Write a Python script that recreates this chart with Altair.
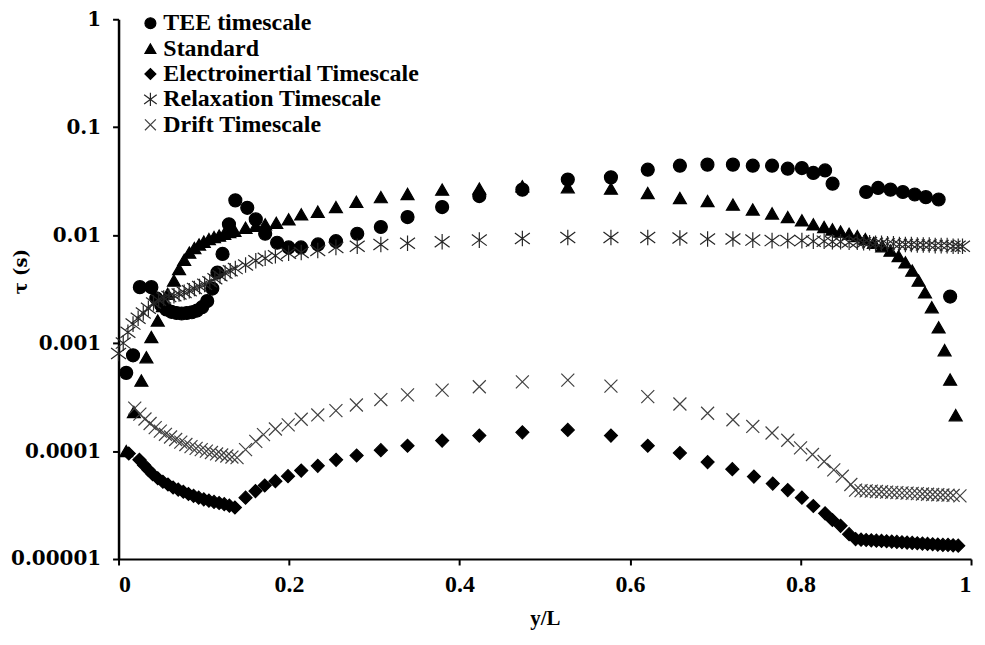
import altair as alt
import pandas as pd

series_names = ["TEE timescale", "Standard", "Electroinertial Timescale",
                "Relaxation Timescale", "Drift Timescale"]

tee_x = [0.009, 0.017, 0.025, 0.0385, 0.0443, 0.050, 0.056, 0.062, 0.068, 0.074, 0.080, 0.086, 0.092, 0.098,
         0.104, 0.110, 0.116, 0.122, 0.1295, 0.137, 0.151, 0.161, 0.172, 0.186, 0.1995, 0.214, 0.234, 0.255,
         0.280, 0.3077, 0.339, 0.3796, 0.4232, 0.4737, 0.527, 0.5776, 0.6208, 0.6585, 0.6908, 0.7207, 0.744,
         0.7666, 0.785, 0.8016, 0.815, 0.8288, 0.8376, 0.877, 0.891, 0.9055, 0.920, 0.934, 0.947, 0.962, 0.9755]
tee_y = [5.3e-4, 7.7e-4, 3.3e-3, 3.3e-3, 2.6e-3, 2.25e-3, 2.05e-3, 1.95e-3, 1.9e-3, 1.88e-3, 1.9e-3, 1.93e-3,
         2.0e-3, 2.15e-3, 2.45e-3, 3.2e-3, 4.5e-3, 6.7e-3, 0.0126, 0.021, 0.0179, 0.014, 0.0103, 0.0085, 0.0077,
         0.0077, 0.0082, 0.0088, 0.0103, 0.0119, 0.0147, 0.0182, 0.023, 0.0264, 0.0327, 0.0343, 0.0404, 0.044,
         0.045, 0.045, 0.044, 0.044, 0.0413, 0.0418, 0.0377, 0.0398, 0.030, 0.0251, 0.0274, 0.0264, 0.0251,
         0.0238, 0.0225, 0.0214, 0.0027]

std_x = [0.009, 0.018, 0.0268, 0.0327, 0.0385, 0.046, 0.052, 0.0576, 0.065, 0.071, 0.077, 0.083, 0.089, 0.0945,
         0.100, 0.106, 0.112, 0.118, 0.124, 0.130, 0.136, 0.149, 0.161, 0.172, 0.185, 0.1995, 0.2143, 0.2337,
         0.255, 0.279, 0.3077, 0.339, 0.3796, 0.4232, 0.4737, 0.527, 0.5776, 0.6208, 0.6585, 0.691, 0.7207,
         0.744, 0.7666, 0.785, 0.8016, 0.815, 0.8277, 0.8374, 0.847, 0.857, 0.8666, 0.876, 0.886, 0.8958,
         0.9055, 0.915, 0.923, 0.931, 0.9385, 0.946, 0.954, 0.962, 0.969, 0.9755, 0.982]
std_y = [1.0e-4, 2.3e-4, 4.5e-4, 7.4e-4, 1.14e-3, 1.62e-3, 2.2e-3, 2.86e-3, 3.8e-3, 4.85e-3, 5.9e-3, 6.9e-3,
         7.6e-3, 8.2e-3, 8.7e-3, 9.2e-3, 9.6e-3, 9.9e-3, 0.0103, 0.0107, 0.011, 0.0117, 0.0122, 0.0126, 0.013,
         0.014, 0.0156, 0.0165, 0.0182, 0.0204, 0.0225, 0.0241, 0.0264, 0.027, 0.0284, 0.0278, 0.027, 0.0246,
         0.0221, 0.0207, 0.0192, 0.0173, 0.0159, 0.0147, 0.0137, 0.0126, 0.0119, 0.0113, 0.0108, 0.0103, 9.8e-3,
         9.2e-3, 8.5e-3, 7.9e-3, 7.2e-3, 6.4e-3, 5.6e-3, 4.7e-3, 3.8e-3, 2.95e-3, 2.15e-3, 1.4e-3, 8.6e-4,
         4.6e-4, 2.15e-4]

ei_x = [0.012, 0.0245, 0.030, 0.035, 0.040, 0.046, 0.052, 0.058, 0.064, 0.070, 0.076, 0.082, 0.088, 0.094,
        0.100, 0.106, 0.112, 0.118, 0.124, 0.130, 0.1365, 0.149, 0.1606, 0.1715, 0.184, 0.1988, 0.2143, 0.2337,
        0.2552, 0.2793, 0.3077, 0.339, 0.3796, 0.4232, 0.4737, 0.527, 0.5776, 0.6208, 0.6585, 0.691, 0.72,
        0.7453, 0.7674, 0.785, 0.8016, 0.815, 0.8288, 0.8374, 0.847, 0.857, 0.8646, 0.871, 0.877, 0.883, 0.889,
        0.895, 0.901, 0.907, 0.913, 0.919, 0.925, 0.931, 0.937, 0.943, 0.949, 0.955, 0.961, 0.967, 0.973,
        0.979, 0.985]
ei_y = [9.5e-5, 8.3e-5, 7.4e-5, 6.7e-5, 6.1e-5, 5.6e-5, 5.2e-5, 4.9e-5, 4.6e-5, 4.4e-5, 4.2e-5, 4.0e-5,
        3.85e-5, 3.7e-5, 3.57e-5, 3.47e-5, 3.38e-5, 3.3e-5, 3.22e-5, 3.12e-5, 3.0e-5, 3.7e-5, 4.26e-5, 4.8e-5,
        5.26e-5, 5.85e-5, 6.6e-5, 7.3e-5, 8.3e-5, 9.1e-5, 1.02e-4, 1.12e-4, 1.25e-4, 1.39e-4, 1.49e-4, 1.57e-4,
        1.39e-4, 1.12e-4, 9.6e-5, 7.9e-5, 6.8e-5, 5.8e-5, 5.0e-5, 4.35e-5, 3.7e-5, 3.1e-5, 2.65e-5, 2.3e-5,
        2.03e-5, 1.7e-5, 1.53e-5, 1.51e-5, 1.5e-5, 1.49e-5, 1.48e-5, 1.47e-5, 1.46e-5, 1.45e-5, 1.44e-5,
        1.43e-5, 1.42e-5, 1.41e-5, 1.4e-5, 1.39e-5, 1.38e-5, 1.37e-5, 1.36e-5, 1.35e-5, 1.35e-5, 1.34e-5,
        1.33e-5]

rel_x = [0.0, 0.0055, 0.011, 0.017, 0.023, 0.029, 0.035, 0.041, 0.047, 0.053, 0.059, 0.065, 0.071, 0.077,
         0.083, 0.089, 0.095, 0.101, 0.107, 0.113, 0.119, 0.125, 0.131, 0.137, 0.149, 0.161, 0.172, 0.184,
         0.1995, 0.2143, 0.2337, 0.255, 0.280, 0.3077, 0.339, 0.3796, 0.4232, 0.4737, 0.527, 0.5776, 0.6208,
         0.6585, 0.691, 0.7207, 0.744, 0.7666, 0.785, 0.8016, 0.815, 0.8277, 0.8374, 0.847, 0.857, 0.8666,
         0.874, 0.881, 0.888, 0.895, 0.902, 0.909, 0.916, 0.923, 0.930, 0.937, 0.944, 0.951, 0.958, 0.965,
         0.972, 0.979, 0.985, 0.990]
rel_y = [8.0e-4, 1.0e-3, 1.26e-3, 1.5e-3, 1.7e-3, 1.9e-3, 2.1e-3, 2.35e-3, 2.5e-3, 2.62e-3, 2.7e-3, 2.75e-3,
         2.85e-3, 2.95e-3, 3.06e-3, 3.2e-3, 3.35e-3, 3.5e-3, 3.7e-3, 3.95e-3, 4.2e-3, 4.45e-3, 4.68e-3, 4.9e-3,
         5.3e-3, 5.8e-3, 6.1e-3, 6.45e-3, 6.8e-3, 6.9e-3, 7.2e-3, 7.7e-3, 7.9e-3, 8.2e-3, 8.4e-3, 8.7e-3,
         9.0e-3, 9.3e-3, 9.5e-3, 9.5e-3, 9.5e-3, 9.4e-3, 9.2e-3, 9.2e-3, 9.0e-3, 8.9e-3, 8.9e-3, 8.9e-3,
         8.8e-3, 8.8e-3, 8.7e-3, 8.7e-3, 8.6e-3, 8.6e-3, 8.5e-3, 8.5e-3, 8.4e-3, 8.4e-3, 8.3e-3, 8.3e-3,
         8.2e-3, 8.2e-3, 8.2e-3, 8.1e-3, 8.1e-3, 8.1e-3, 8.0e-3, 8.0e-3, 8.0e-3, 7.9e-3, 7.9e-3, 7.9e-3]

dr_x = [0.019, 0.025, 0.031, 0.037, 0.043, 0.049, 0.055, 0.061, 0.067, 0.073, 0.079, 0.085, 0.091, 0.097,
        0.103, 0.109, 0.115, 0.121, 0.127, 0.133, 0.139, 0.149, 0.161, 0.170, 0.184, 0.199, 0.2143, 0.2337,
        0.255, 0.279, 0.3077, 0.339, 0.3796, 0.4232, 0.4737, 0.527, 0.5776, 0.6208, 0.6585, 0.691, 0.7207,
        0.744, 0.7666, 0.785, 0.800, 0.814, 0.8277, 0.839, 0.849, 0.859, 0.8646, 0.871, 0.877, 0.883, 0.889,
        0.895, 0.901, 0.907, 0.913, 0.919, 0.925, 0.931, 0.937, 0.943, 0.949, 0.955, 0.961, 0.967, 0.973,
        0.979, 0.987]
dr_y = [2.5e-4, 2.2e-4, 1.98e-4, 1.8e-4, 1.65e-4, 1.53e-4, 1.43e-4, 1.35e-4, 1.28e-4, 1.21e-4, 1.15e-4,
        1.1e-4, 1.06e-4, 1.03e-4, 1.0e-4, 9.7e-5, 9.4e-5, 9.2e-5, 9.0e-5, 8.8e-5, 8.7e-5, 1.03e-4, 1.23e-4,
        1.42e-4, 1.6e-4, 1.75e-4, 1.97e-4, 2.16e-4, 2.37e-4, 2.67e-4, 3.0e-4, 3.31e-4, 3.67e-4, 3.94e-4,
        4.38e-4, 4.54e-4, 4.0e-4, 3.19e-4, 2.73e-4, 2.24e-4, 1.95e-4, 1.69e-4, 1.47e-4, 1.26e-4, 1.07e-4,
        9.3e-5, 8.0e-5, 6.7e-5, 5.85e-5, 4.9e-5, 4.35e-5, 4.3e-5, 4.28e-5, 4.25e-5, 4.22e-5, 4.2e-5, 4.17e-5,
        4.15e-5, 4.12e-5, 4.1e-5, 4.08e-5, 4.05e-5, 4.03e-5, 4.0e-5, 3.98e-5, 3.96e-5, 3.94e-5, 3.92e-5,
        3.9e-5, 3.88e-5, 3.85e-5]

x_ticks = [0, 0.2, 0.4, 0.6, 0.8, 1]
y_ticks = [0.00001, 0.0001, 0.001, 0.01, 0.1, 1]

all_x = [tee_x, std_x, ei_x, rel_x, dr_x]
all_y = [tee_y, std_y, ei_y, rel_y, dr_y]

rows = []
for k, (name, xs, ys) in enumerate(zip(series_names, all_x, all_y)):
    assert len(xs) == len(ys), name
    for xv, yv in zip(xs, ys):
        rows.append({"series": name, "order": k, "x": xv, "tau": yv})
df = pd.DataFrame(rows)

asterisk = "M-1.15,-0.85L1.15,0.85M-1.15,0.85L1.15,-0.85M0,-1.2L0,1.2"
cross_x = "M-1,-1L1,1M-1,1L1,-1"

shape_range = ["circle", "triangle-up", "diamond", asterisk, cross_x]
fill_range = ["black", "black", "black", "transparent", "transparent"]
stroke_range = ["black", "black", "black", "#262626", "#404040"]

chart = alt.Chart(df).mark_point(size=170, strokeWidth=1.2, opacity=1).encode(
    x=alt.X("x:Q", title="y/L",
            scale=alt.Scale(domain=[0, 1], nice=False, zero=False),
            axis=alt.Axis(values=x_ticks, format="~g", labelFont="Liberation Serif",
                          labelFontWeight="bold", labelFontSize=24, labelPadding=8,
                          titleFont="Liberation Serif", titleFontWeight="bold", titleFontSize=21,
                          titleY=60, titleBaseline="middle")),
    y=alt.Y("tau:Q", title="τ (s)",
            scale=alt.Scale(type="log", domain=[0.00001, 1], nice=False),
            axis=alt.Axis(values=y_ticks, format="~g", labelFont="DejaVu Serif",
                          labelFontWeight="bold", labelFontSize=20, labelPadding=12,
                          titleFont="DejaVu Serif", titleFontWeight="bold", titleFontSize=18,
                          titleX=-97, titleY=253, titleAngle=270, titleBaseline="middle")),
    shape=alt.Shape("series:N", title=None,
                    scale=alt.Scale(domain=series_names, range=shape_range)),
    fill=alt.Fill("series:N", title=None,
                  scale=alt.Scale(domain=series_names, range=fill_range)),
    stroke=alt.Stroke("series:N", title=None,
                      scale=alt.Scale(domain=series_names, range=stroke_range)),
    order=alt.Order("order:Q"),
).properties(
    width=856, height=542,
    autosize="none",
    padding={"left": 111, "top": 10, "right": 6, "bottom": 72},
).configure_view(
    stroke=None
).configure_axis(
    grid=False, domainColor="black", domainWidth=2, tickColor="black", tickWidth=2,
    tickSize=6, labelColor="black", titleColor="black"
).configure_axisY(
    domainWidth=2.5
).configure_legend(
    orient="none", legendX=20, legendY=-8, padding=0, rowPadding=1.5,
    labelFont="Liberation Serif", labelFontWeight="bold", labelFontSize=24, labelColor="black",
    labelLimit=500, labelOffset=1, symbolSize=120, symbolStrokeWidth=1.2
)

chart.save("out.html", embed_options={"renderer": "svg", "actions": False})
